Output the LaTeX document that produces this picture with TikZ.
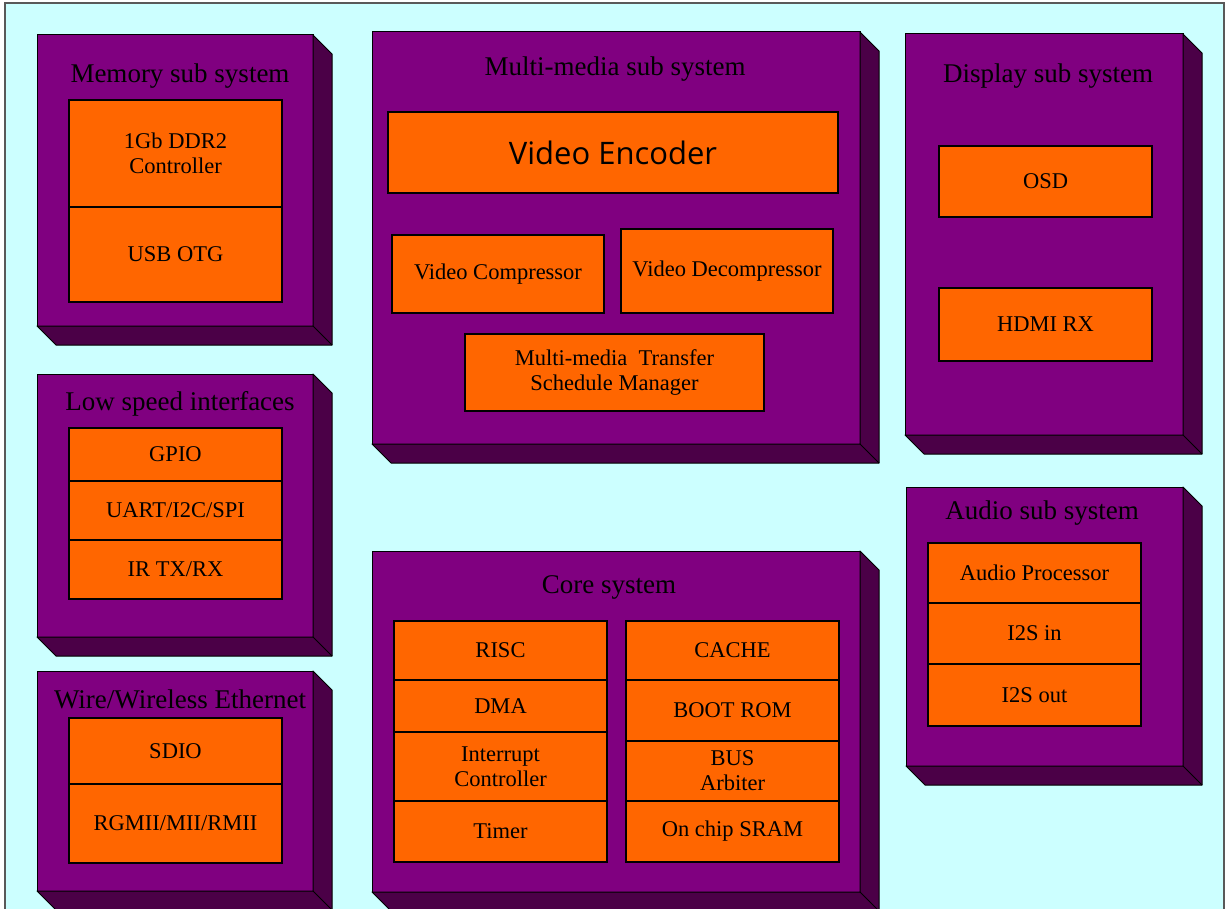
\documentclass[tikz,border=0pt]{standalone}
\usepackage{fontspec}
\setmainfont{Liberation Serif}
\newfontfamily\encfont{Open Sans}
\usetikzlibrary{positioning,calc}

\definecolor{bgcyan}{HTML}{CCFFFF}
\definecolor{subplum}{HTML}{800080}
\definecolor{subplumdark}{HTML}{4B0047}
\definecolor{chiporange}{HTML}{FF6600}

\tikzset{
  pageframe/.style={fill=bgcyan, draw=black!65, line width=2pt},
  subface/.style={draw=black, fill=subplum, line width=1pt, outer sep=0pt, inner sep=0pt, anchor=north west},
  shadeface/.style={draw=black, fill=subplumdark, line width=1pt, line join=round},
  subtitle/.style={anchor=base, font=\fontsize{27}{29}\selectfont, text=black},
  block/.style={draw=black, fill=chiporange, line width=1.3pt, outer sep=0pt, inner sep=2pt,
    anchor=north west, align=center, minimum width=213pt, font=\fontsize{22.5}{25}\selectfont}
}

% one sub system box with its 3D sides: name, x, y, width, height
\newcommand{\subsys}[5]{%
  \node[subface, minimum width=#4pt, minimum height=#5pt] (#1) at (#2,#3) {};
  \draw[shadeface] (#1.north east) -- ++(\D,\D) -- ($(#1.south east)+(\D,\D)$)
    -- ($(#1.south west)+(\D,\D)$) -- (#1.south west) -- (#1.south east) -- cycle;
  \draw[shadeface] (#1.south east) -- ++(\D,\D);
}

\begin{document}
\begin{tikzpicture}[x=1pt, y=-1pt]
  \def\D{19}
  \useasboundingbox (0,0) rectangle (1226,909);
  \clip (0,0) rectangle (1226,909);
  \draw[pageframe] (5,3) rectangle (1224,920);

  % Memory sub system
  \subsys{mem}{37}{35}{276}{291}
  \node[subtitle] (memt) at (180,83) {Memory sub system};
  \node[block, minimum height=107pt] (ddr) at (69,100) {1Gb DDR2\\Controller};
  \node[block, minimum height=95pt, below=0pt of ddr] (usb) {USB OTG};

  % Low speed interfaces
  \subsys{low}{37}{374}{276}{263}
  \node[subtitle] (lowt) at (180,410) {Low speed interfaces};
  \node[block, minimum height=53pt] (gpio) at (69,428) {GPIO};
  \node[block, minimum height=59pt, below=0pt of gpio] (uart) {UART/I2C/SPI};
  \node[block, minimum height=59pt, below=0pt of uart] (ir) {IR TX/RX};

  % Wire/Wireless Ethernet
  \subsys{eth}{37}{671}{276}{220}
  \node[subtitle] (etht) at (180,708) {Wire/Wireless Ethernet};
  \node[block, minimum height=66pt] (sdio) at (69,718) {SDIO};
  \node[block, minimum height=79pt, below=0pt of sdio] (rgmii) {RGMII/MII/RMII};

  % Multi-media sub system
  \subsys{mm}{372}{32}{488}{412}
  \node[subtitle] (mmt) at (615,76) {Multi-media sub system};
  \node[block, minimum width=450pt, minimum height=81pt, font=\encfont\fontsize{31}{33}\selectfont] (enc) at (388,112) {Video Encoder};
  \node[block, minimum width=212pt, minimum height=78pt] (comp) at (392,235) {Video Compressor};
  \node[block, minimum width=212pt, minimum height=84pt] (decomp) at (621,229) {Video Decompressor};
  \node[block, minimum width=299pt, minimum height=77pt] (sched) at (465,334) {Multi-media\ \ Transfer\\Schedule Manager};

  % Core system
  \subsys{core}{372}{551}{488}{341}
  \node[subtitle] (coret) at (609,593) {Core system};
  \node[block, minimum height=59pt] (risc) at (394,621) {RISC};
  \node[block, minimum height=52pt, below=0pt of risc] (dma) {DMA};
  \node[block, minimum height=69pt, below=0pt of dma] (irq) {Interrupt\\Controller};
  \node[block, minimum height=61pt, below=0pt of irq] (timer) {Timer};
  \node[block, minimum height=59pt] (cache) at (626,621) {CACHE};
  \node[block, minimum height=61pt, below=0pt of cache] (boot) {BOOT ROM};
  \node[block, minimum height=60pt, below=0pt of boot] (bus) {BUS\\Arbiter};
  \node[block, minimum height=61pt, below=0pt of bus] (sram) {On chip SRAM};

  % Display sub system
  \subsys{disp}{905}{34}{278}{401}
  \node[subtitle] (dispt) at (1048,83) {Display sub system};
  \node[block, minimum height=71pt] (osd) at (939,146) {OSD};
  \node[block, minimum height=73pt] (hdmi) at (939,288) {HDMI RX};

  % Audio sub system
  \subsys{aud}{906}{487}{277}{279}
  \node[subtitle] (audt) at (1042,519) {Audio sub system};
  \node[block, minimum height=60pt] (aproc) at (928,543) {Audio Processor};
  \node[block, minimum height=61pt, below=0pt of aproc] (i2sin) {I2S in};
  \node[block, minimum height=62pt, below=0pt of i2sin] (i2sout) {I2S out};
\end{tikzpicture}
\end{document}
